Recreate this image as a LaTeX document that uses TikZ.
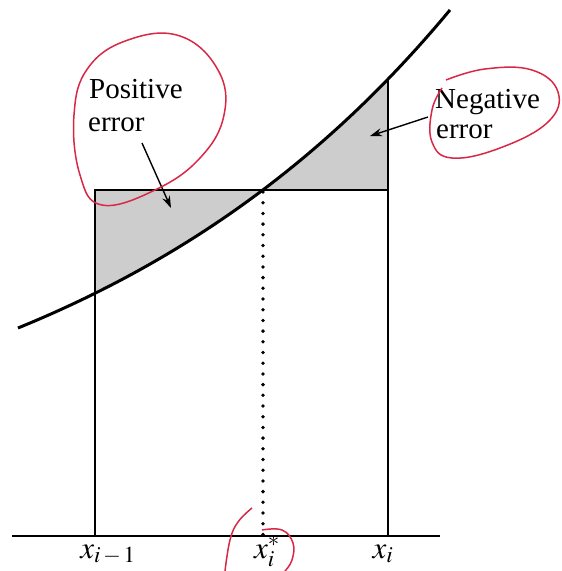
\documentclass[tikz,border=0pt]{standalone}
\usepackage{mathptmx}
\usepackage[no-math]{fontspec}
\setmainfont{Liberation Serif}
\usetikzlibrary{arrows.meta}
\definecolor{annot}{RGB}{215,40,70}
\definecolor{errgray}{RGB}{205,205,205}
\tikzset{
  lbl/.style={inner sep=0pt, font=\fontsize{29}{33}\selectfont},
  axlbl/.style={inner sep=0pt, anchor=base, font=\fontsize{31}{35}\selectfont},
  frameline/.style={line width=1.6pt},
  curveline/.style={line width=3pt},
  dotline/.style={line width=3.8pt, line cap=round, dash pattern=on 0pt off 10.7pt},
  pointer/.style={line width=1.4pt, -{Stealth[length=12pt,width=8pt]}},
  redloop/.style={annot, line width=1.5pt}
}
\begin{document}
\begin{tikzpicture}[x=1pt,y=-1pt]
\useasboundingbox (0,0) rectangle (562,571);
\def\curvefn{328-163.3*(exp(0.0025*(\x-18))-1)}
% shaded errors
\begin{scope}
  \clip plot[domain=18:450, samples=80] (\x,{\curvefn}) -- (450,-100) -- (-10,-100) -- (-10,328) -- cycle;
  \fill[errgray] (95,190) rectangle (263,420);
\end{scope}
\begin{scope}
  \clip plot[domain=18:450, samples=80] (\x,{\curvefn}) -- (600,10) -- (600,600) -- (-10,600) -- (-10,328) -- cycle;
  \fill[errgray] (263,0) rectangle (388,190);
\end{scope}
% coordinates
\coordinate (axL) at (12,536);
\coordinate (axR) at (440,536);
\coordinate (lt) at (95,190);
\coordinate (lb) at (95,536);
\coordinate (rt) at (388,80);
\coordinate (rb) at (388,536);
\coordinate (rm) at (388,190);
\coordinate (st) at (263,192);
\coordinate (sb) at (263,536);
% frame
\draw[frameline] (lb) -- (lt) -- (rm);
\draw[frameline] (rt) -- (rb);
\draw[frameline] (axL) -- (axR);
\draw[dotline] (st) -- (sb);
% curve
\draw[curveline] plot[domain=18:450, samples=80] (\x,{\curvefn});
% labels
\node[lbl, anchor=base west] (pos1) at (89,98) {Positive};
\node[lbl, anchor=base west] (pos2) at (88,131) {error};
\node[lbl, anchor=base west] (neg1) at (435,108) {Negative};
\node[lbl, anchor=base west] (neg2) at (436,138) {error};
\coordinate (pa) at (142,143);
\coordinate (pt) at (171,208);
\coordinate (na) at (428,117);
\coordinate (nt) at (370,136);
\draw[pointer] (pa) -- (pt);
\draw[pointer] (na) -- (nt);
% axis labels
\node[axlbl] (xl) at (108,558) {$x_{i\,-\,1}$};
\node[axlbl] (xs) at (267,558) {$x_i^*$};
\node[axlbl] (xr) at (383,558) {$x_i$};
% red annotations
\draw[redloop] plot[smooth cycle, tension=0.7] coordinates {(102,205) (80,175) (74,115) (88,68) (128,40) (180,36) (218,70) (224,115) (200,158) (155,190)};
\draw[redloop] plot[smooth, tension=0.7] coordinates {(446,80) (485,69) (532,70) (558,92) (548,122) (500,148) (452,158) (432,142) (432,110) (442,88)};
\draw[redloop] plot[smooth, tension=0.7] coordinates {(252,508) (238,522) (230,540) (225,571)};
\draw[redloop] plot[smooth, tension=0.7] coordinates {(262,530) (282,530) (293,543) (292,560) (285,571)};
\end{tikzpicture}
\end{document}
